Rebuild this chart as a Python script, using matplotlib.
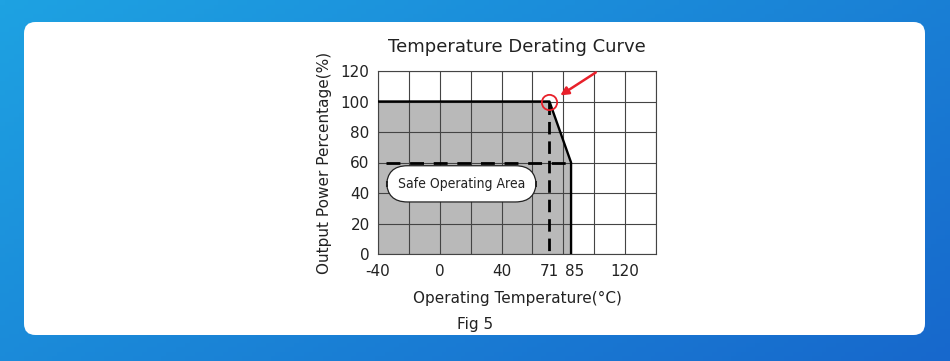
import numpy as np
import matplotlib
matplotlib.use("Agg")
import matplotlib.pyplot as plt
import matplotlib.transforms as mtransforms
from matplotlib.patches import FancyBboxPatch

plt.rcParams["axes.unicode_minus"] = False

# derating curve: (temperature, output %)
curve_temp = [-40, 71, 85, 85]
curve_power = [100, 100, 60, 0]

x_tick_values = [-40, 0, 40, 71, 85, 120]
y_tick_values = [0, 20, 40, 60, 80, 100, 120]
grid_temps = list(range(-40, 141, 20))

knee_temp = 71
knee_power = 100
derate_temp = 85
derate_power = 60

fig = plt.figure(figsize=(9.5, 3.61), dpi=100)

# blue gradient background + white card
bg = fig.add_axes([0, 0, 1, 1], zorder=0)
gx, gy = np.meshgrid(np.linspace(0, 1, 200), np.linspace(0, 1, 80))
t = (gx * 0.6 + gy * 0.4)
c1 = np.array([0x1e, 0xa2, 0xe2]) / 255
c2 = np.array([0x17, 0x68, 0xcc]) / 255
img = c1[None, None, :] * (1 - t[..., None]) + c2[None, None, :] * t[..., None]
bg.imshow(img, extent=[0, 1, 0, 1], aspect="auto", origin="upper")
bg.set_xlim(0, 1)
bg.set_ylim(0, 1)
bg.axis("off")

card = FancyBboxPatch((24 / 950, 1 - 335 / 361), (925 - 24) / 950, (335 - 22) / 361,
                      boxstyle="round,pad=0,rounding_size=0.012",
                      transform=bg.transAxes, facecolor="white", edgecolor="none",
                      mutation_aspect=950 / 361, zorder=3)
bg.add_patch(card)

ax = fig.add_axes([378 / 950, 1 - 254 / 361, 278 / 950, 183 / 361], zorder=2)
ax.set_xlim(-40, 140)
ax.set_ylim(0, 120)
ax.patch.set_alpha(0)

# shaded safe area
ax.fill_between(curve_temp, curve_power, 0, color="#b9b9b9", zorder=1, linewidth=0)
for gt in grid_temps:
    ax.axvline(gt, color="#444444", linewidth=0.8, zorder=2)
for gp in y_tick_values:
    ax.axhline(gp, color="#444444", linewidth=0.8, zorder=2)

ax.set_xticks(x_tick_values)
ax.set_yticks(y_tick_values)
ax.tick_params(which="both", length=0)
ax.tick_params(axis="x", labelsize=11, pad=7, colors="#222222")
ax.tick_params(axis="y", labelsize=11, pad=6, colors="#222222")
for s in ax.spines.values():
    s.set_color("#444444")
    s.set_linewidth(0.8)

# nudge the crowded 71/85 labels apart a little
labels = ax.get_xticklabels()
shift = mtransforms.ScaledTranslation(4 / 100, 0, fig.dpi_scale_trans)
for lab in labels:
    if lab.get_text() == "85":
        lab.set_transform(lab.get_transform() + shift)

ax.plot(curve_temp, curve_power, color="black", linewidth=1.7, zorder=4)
ax.plot([-35, derate_temp], [derate_power, derate_power], color="black", linewidth=2,
        dashes=(5, 3.5), zorder=4)
ax.plot([knee_temp, knee_temp], [knee_power, 0], color="black", linewidth=2,
        dashes=(4.5, 2.5), zorder=4)

ax.text(14, 46, "Safe Operating Area", ha="center", va="center", fontsize=10,
        fontstretch="condensed", color="#222222", zorder=6,
        bbox=dict(boxstyle="round,pad=0.8,rounding_size=1.5", facecolor="white",
                  edgecolor="#222222", linewidth=0.9))

ax.plot([knee_temp], [knee_power], marker="o", markersize=11, markerfacecolor="none",
        markeredgecolor="#e8202a", markeredgewidth=1.3, zorder=7, clip_on=False)
ax.annotate("", xy=(76.5, 103), xytext=(102.5, 120),
            arrowprops=dict(arrowstyle="-|>", color="#e8202a", lw=1.8, mutation_scale=12),
            zorder=7, annotation_clip=False)

ax.set_title("Temperature Derating Curve", fontsize=13, color="#222222", pad=14)
ax.set_ylabel("Output Power Percentage(%)", fontsize=11, color="#222222", labelpad=6)
ax.set_xlabel("Operating Temperature(\u00b0C)", fontsize=11, color="#222222", labelpad=9)

fig.text(475 / 950, 1 - 325 / 361, "Fig 5", ha="center", va="center", fontsize=11,
         color="#222222")

fig.savefig("out.png", dpi=100)
